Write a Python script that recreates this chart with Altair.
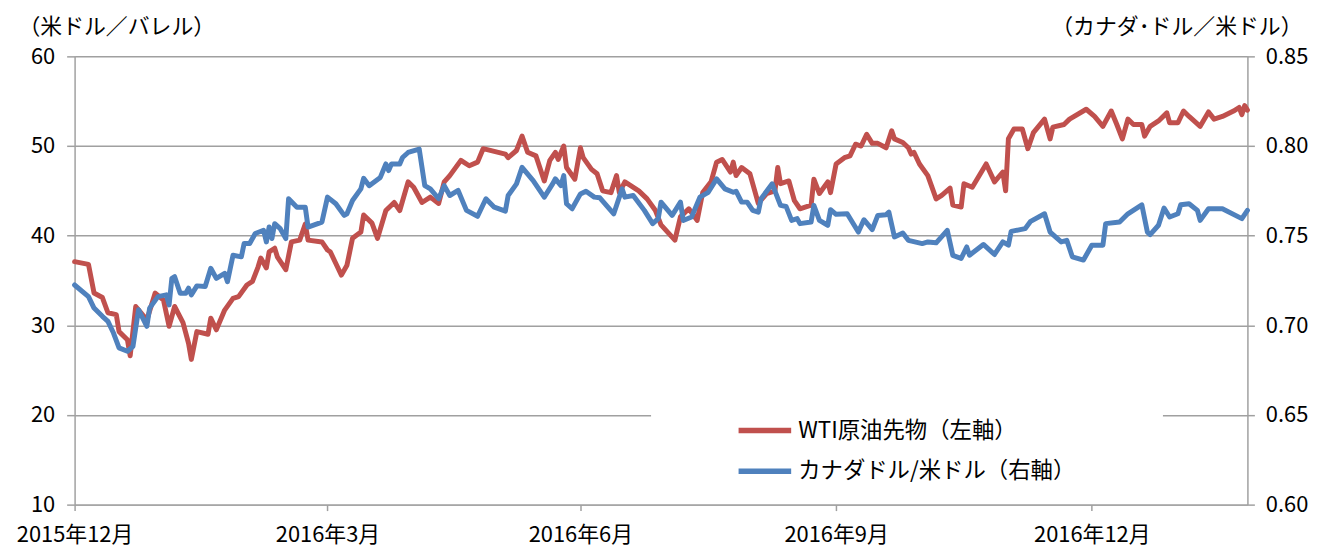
import altair as alt
import pandas as pd

WTI_LABEL = "WTI原油先物（左軸）"
CAD_LABEL = "カナダドル/米ドル（右軸）"

wti_dates = [
    "2015-12-31", "2016-01-05", "2016-01-07", "2016-01-10", "2016-01-12", "2016-01-15", "2016-01-16",
    "2016-01-19", "2016-01-20", "2016-01-22", "2016-01-26", "2016-01-29", "2016-02-01", "2016-02-03",
    "2016-02-05", "2016-02-08", "2016-02-10", "2016-02-11", "2016-02-13", "2016-02-17", "2016-02-18",
    "2016-02-20", "2016-02-23", "2016-02-26", "2016-02-28", "2016-03-02", "2016-03-04", "2016-03-06",
    "2016-03-07", "2016-03-09", "2016-03-10", "2016-03-12", "2016-03-13", "2016-03-16", "2016-03-18",
    "2016-03-21", "2016-03-23", "2016-03-24", "2016-03-29", "2016-03-31", "2016-04-01", "2016-04-03",
    "2016-04-05", "2016-04-07", "2016-04-09", "2016-04-12", "2016-04-13", "2016-04-16", "2016-04-18",
    "2016-04-21", "2016-04-24", "2016-04-26", "2016-04-29", "2016-05-01", "2016-05-04", "2016-05-07",
    "2016-05-10", "2016-05-12", "2016-05-14", "2016-05-18", "2016-05-21", "2016-05-24", "2016-05-26",
    "2016-06-03", "2016-06-04", "2016-06-07", "2016-06-09", "2016-06-11", "2016-06-14", "2016-06-17",
    "2016-06-19", "2016-06-21", "2016-06-22", "2016-06-24", "2016-06-25", "2016-06-28", "2016-06-30",
    "2016-07-01", "2016-07-04", "2016-07-06", "2016-07-08", "2016-07-11", "2016-07-13", "2016-07-14",
    "2016-07-16", "2016-07-21", "2016-07-24", "2016-07-27", "2016-07-29", "2016-08-03", "2016-08-05",
    "2016-08-08", "2016-08-11", "2016-08-13", "2016-08-16", "2016-08-18", "2016-08-20", "2016-08-23",
    "2016-08-24", "2016-08-25", "2016-08-27", "2016-08-30", "2016-09-02", "2016-09-05", "2016-09-08",
    "2016-09-09", "2016-09-10", "2016-09-13", "2016-09-15", "2016-09-17", "2016-09-21", "2016-09-22",
    "2016-09-24", "2016-09-27", "2016-09-28", "2016-09-30", "2016-10-03", "2016-10-05", "2016-10-07",
    "2016-10-09", "2016-10-11", "2016-10-13", "2016-10-15", "2016-10-18", "2016-10-20", "2016-10-21",
    "2016-10-24", "2016-10-26", "2016-10-27", "2016-10-28", "2016-10-30", "2016-11-02", "2016-11-05",
    "2016-11-07", "2016-11-10", "2016-11-11", "2016-11-14", "2016-11-15", "2016-11-18", "2016-11-23",
    "2016-11-26", "2016-11-29", "2016-11-30", "2016-12-01", "2016-12-03", "2016-12-06", "2016-12-08",
    "2016-12-10", "2016-12-14", "2016-12-16", "2016-12-17", "2016-12-21", "2016-12-23", "2016-12-29",
    "2017-01-01", "2017-01-04", "2017-01-07", "2017-01-09", "2017-01-11", "2017-01-13", "2017-01-15",
    "2017-01-18", "2017-01-19", "2017-01-21", "2017-01-24", "2017-01-27", "2017-01-28", "2017-01-31",
    "2017-02-02", "2017-02-04", "2017-02-08", "2017-02-11", "2017-02-13", "2017-02-16", "2017-02-20",
    "2017-02-22", "2017-02-23", "2017-02-24", "2017-02-25",
]
wti_values = [
    37.1, 36.8, 33.6, 33.1, 31.4, 31.2, 29.3,
    28.4, 26.6, 32.1, 30.6, 33.6, 32.8, 29.9,
    32.1, 30.3, 28.0, 26.2, 29.3, 29.0, 30.8,
    29.5, 31.7, 33.0, 33.2, 34.5, 34.9, 36.5,
    37.5, 36.4, 38.2, 38.6, 37.6, 36.2, 39.3,
    39.5, 41.3, 39.5, 39.3, 38.4, 38.2, 36.9,
    35.6, 36.7, 39.7, 40.4, 42.3, 41.4, 39.7,
    42.8, 43.7, 42.8, 46.0, 45.4, 43.7, 44.3,
    43.6, 46.0, 46.7, 48.4, 47.8, 48.2, 49.7,
    49.1, 48.7, 49.5, 51.1, 49.3, 48.9, 46.1,
    48.4, 49.3, 48.5, 50.0, 47.6, 46.3, 49.8,
    48.7, 47.4, 46.9, 45.0, 44.8, 46.7, 44.8,
    46.0, 45.0, 44.1, 42.8, 41.2, 39.5, 42.1,
    43.0, 41.7, 44.8, 46.0, 48.2, 48.5, 47.1,
    48.2, 46.7, 47.6, 46.9, 43.6, 44.7, 45.0,
    47.6, 45.8, 46.1, 43.9, 43.0, 43.4, 46.3,
    44.7, 46.0, 44.8, 48.0, 48.7, 48.9, 50.2,
    50.0, 51.3, 50.3, 50.3, 49.8, 51.7, 50.8,
    50.4, 49.8, 49.1, 49.3, 48.0, 46.7, 44.1,
    44.5, 45.3, 43.4, 43.2, 45.8, 45.4, 48.0,
    46.0, 47.1, 45.0, 50.8, 51.9, 51.9, 49.7,
    51.5, 53.0, 50.8, 52.1, 52.4, 53.0, 54.1,
    53.3, 52.2, 53.9, 52.4, 50.8, 53.0, 52.4,
    52.4, 51.1, 52.2, 52.8, 53.7, 52.6, 52.6,
    53.9, 53.3, 52.2, 53.8, 53.0, 53.3, 53.9,
    54.3, 53.5, 54.5, 54.0,
]

cad_dates = [
    "2015-12-31", "2016-01-05", "2016-01-07", "2016-01-10", "2016-01-12", "2016-01-14", "2016-01-16",
    "2016-01-19", "2016-01-21", "2016-01-23", "2016-01-26", "2016-01-27", "2016-01-30", "2016-02-02",
    "2016-02-03", "2016-02-04", "2016-02-05", "2016-02-07", "2016-02-09", "2016-02-10", "2016-02-11",
    "2016-02-13", "2016-02-16", "2016-02-18", "2016-02-20", "2016-02-23", "2016-02-24", "2016-02-26",
    "2016-02-29", "2016-03-01", "2016-03-03", "2016-03-05", "2016-03-08", "2016-03-09", "2016-03-10",
    "2016-03-11", "2016-03-12", "2016-03-14", "2016-03-16", "2016-03-17", "2016-03-20", "2016-03-23",
    "2016-03-24", "2016-03-29", "2016-03-31", "2016-04-03", "2016-04-06", "2016-04-07", "2016-04-09",
    "2016-04-12", "2016-04-13", "2016-04-15", "2016-04-19", "2016-04-21", "2016-04-22", "2016-04-23",
    "2016-04-26", "2016-04-27", "2016-04-29", "2016-05-03", "2016-05-05", "2016-05-07", "2016-05-10",
    "2016-05-12", "2016-05-14", "2016-05-17", "2016-05-20", "2016-05-24", "2016-05-27", "2016-05-30",
    "2016-06-03", "2016-06-04", "2016-06-07", "2016-06-09", "2016-06-13", "2016-06-17", "2016-06-20",
    "2016-06-21", "2016-06-23", "2016-06-24", "2016-06-25", "2016-06-27", "2016-06-30", "2016-07-02",
    "2016-07-05", "2016-07-07", "2016-07-12", "2016-07-15", "2016-07-16", "2016-07-19", "2016-07-23",
    "2016-07-26", "2016-07-28", "2016-07-29", "2016-08-02", "2016-08-05", "2016-08-06", "2016-08-09",
    "2016-08-12", "2016-08-15", "2016-08-18", "2016-08-21", "2016-08-24", "2016-08-25", "2016-08-27",
    "2016-08-29", "2016-08-31", "2016-09-02", "2016-09-03", "2016-09-07", "2016-09-10", "2016-09-12",
    "2016-09-14", "2016-09-16", "2016-09-17", "2016-09-21", "2016-09-22", "2016-09-24", "2016-09-27",
    "2016-09-28", "2016-09-30", "2016-10-04", "2016-10-08", "2016-10-10", "2016-10-13", "2016-10-15",
    "2016-10-18", "2016-10-19", "2016-10-21", "2016-10-24", "2016-10-26", "2016-10-31", "2016-11-02",
    "2016-11-05", "2016-11-09", "2016-11-11", "2016-11-14", "2016-11-16", "2016-11-17", "2016-11-22",
    "2016-11-26", "2016-11-29", "2016-12-01", "2016-12-02", "2016-12-07", "2016-12-09", "2016-12-14",
    "2016-12-16", "2016-12-20", "2016-12-22", "2016-12-24", "2016-12-28", "2016-12-31", "2017-01-04",
    "2017-01-05", "2017-01-10", "2017-01-13", "2017-01-18", "2017-01-20", "2017-01-21", "2017-01-24",
    "2017-01-26", "2017-01-28", "2017-01-31", "2017-02-01", "2017-02-04", "2017-02-07", "2017-02-08",
    "2017-02-11", "2017-02-16", "2017-02-23", "2017-02-25",
]
cad_values = [
    0.7225, 0.7160, 0.7096, 0.7050, 0.7022, 0.6957, 0.6874,
    0.6855, 0.6883, 0.7087, 0.6994, 0.7096, 0.7160, 0.7170,
    0.7114, 0.7262, 0.7271, 0.7179, 0.7179, 0.7207, 0.7170,
    0.7220, 0.7216, 0.7318, 0.7262, 0.7290, 0.7243, 0.7391,
    0.7382, 0.7456, 0.7456, 0.7512, 0.7530, 0.7465, 0.7548,
    0.7484, 0.7567, 0.7539, 0.7484, 0.7706, 0.7659, 0.7659,
    0.7548, 0.7576, 0.7715, 0.7678, 0.7613, 0.7622, 0.7696,
    0.7761, 0.7820, 0.7779, 0.7825, 0.7900, 0.7863, 0.7900,
    0.7900, 0.7936, 0.7964, 0.7983, 0.7779, 0.7761, 0.7706,
    0.7779, 0.7724, 0.7752, 0.7641, 0.7608, 0.7706, 0.7659,
    0.7637, 0.7724, 0.7789, 0.7881, 0.7807, 0.7715, 0.7789,
    0.7817, 0.7779, 0.7835, 0.7678, 0.7650, 0.7733, 0.7748,
    0.7715, 0.7711, 0.7622, 0.7761, 0.7715, 0.7724, 0.7641,
    0.7567, 0.7595, 0.7687, 0.7613, 0.7687, 0.7585, 0.7604,
    0.7715, 0.7742, 0.7817, 0.7761, 0.7742, 0.7748, 0.7687,
    0.7687, 0.7641, 0.7631, 0.7706, 0.7789, 0.7669, 0.7663,
    0.7585, 0.7595, 0.7567, 0.7576, 0.7669, 0.7585, 0.7558,
    0.7645, 0.7619, 0.7622, 0.7520, 0.7589, 0.7534, 0.7613,
    0.7617, 0.7631, 0.7493, 0.7515, 0.7474, 0.7456, 0.7465,
    0.7460, 0.7530, 0.7390, 0.7373, 0.7437, 0.7391, 0.7451,
    0.7395, 0.7465, 0.7447, 0.7524, 0.7539, 0.7580, 0.7622,
    0.7520, 0.7465, 0.7474, 0.7382, 0.7364, 0.7447, 0.7447,
    0.7567, 0.7576, 0.7622, 0.7672, 0.7520, 0.7506, 0.7558,
    0.7654, 0.7604, 0.7622, 0.7672, 0.7678, 0.7641, 0.7585,
    0.7650, 0.7650, 0.7595, 0.7641,
]

left_ticks = [10, 20, 30, 40, 50, 60]
right_ticks = [0.60, 0.65, 0.70, 0.75, 0.80, 0.85]
x_tick_dates = [(2015, 12, 31), (2016, 3, 31), (2016, 6, 30), (2016, 9, 30), (2016, 12, 31)]

wti_df = pd.DataFrame({"date": wti_dates, "value": wti_values, "series": WTI_LABEL})
cad_df = pd.DataFrame({"date": cad_dates, "value": cad_values, "series": CAD_LABEL})

W, H = 1180, 451
GRAY = "#A0A0A0"
FONT = "Noto Sans CJK JP"
LINE_W = 5

x_enc = alt.X(
    "date:T",
    scale=alt.Scale(type="utc", domain=[alt.DateTime(year=2015, month=12, date=31, utc=True),
                                        alt.DateTime(year=2017, month=2, date=25, utc=True)]),
    axis=alt.Axis(
        values=[alt.DateTime(year=y, month=m, date=d, utc=True) for (y, m, d) in x_tick_dates],
        labelExpr="utcyear(datum.value) + '年' + (utcmonth(datum.value) + 1) + '月'",
        title=None, grid=False, labelFlush=False, labelOverlap=False, labelBound=False,
        tickSize=6, tickColor=GRAY, tickWidth=1.5, domainColor=GRAY, domainWidth=1.5,
        labelFontSize=22, labelColor="black", labelPadding=14, labelFont=FONT,
    ),
)

color_enc = alt.Color(
    "series:N",
    scale=alt.Scale(domain=[WTI_LABEL, CAD_LABEL], range=["#C0504D", "#4F81BD"]),
    legend=alt.Legend(
        title=None, orient="none", legendX=665, legendY=347, symbolType="stroke",
        symbolSize=2800, symbolStrokeWidth=5.5, labelFontSize=22.5, labelFont=FONT,
        labelColor="black", labelOffset=4, rowPadding=-16, padding=0,
        labelLimit=400,
    ),
)

box = alt.Chart(pd.DataFrame({"k": [0]})).mark_rect(color="white").encode(
    x=alt.value(580), x2=alt.value(1095), y=alt.value(345), y2=alt.value(440)
)

wti = alt.Chart(wti_df).mark_line(strokeWidth=LINE_W, strokeCap="round", strokeJoin="round").encode(
    x=x_enc,
    y=alt.Y(
        "value:Q",
        scale=alt.Scale(domain=[10, 60], nice=False, zero=False),
        axis=alt.Axis(
            orient="left", values=left_ticks, grid=True, gridColor=GRAY, gridWidth=1.5,
            tickSize=8, tickColor=GRAY, tickWidth=1.5, domainColor=GRAY, domainWidth=1.5,
            labelFontSize=22, labelColor="black", labelPadding=12, labelFont=FONT,
            title="（米ドル／バレル）", titleAngle=0, titleAlign="left", titleBaseline="middle",
            titleX=-57, titleY=-30, titleFontSize=22, titleFontWeight="normal", titleFont=FONT,
            titleColor="black",
        ),
    ),
    color=color_enc,
)

cad = alt.Chart(cad_df).mark_line(strokeWidth=LINE_W, strokeCap="round", strokeJoin="round").encode(
    x=x_enc,
    y=alt.Y(
        "value:Q",
        scale=alt.Scale(domain=[0.60, 0.85], nice=False, zero=False),
        axis=alt.Axis(
            orient="right", values=right_ticks, format=".2f", grid=False,
            tickSize=7, tickColor=GRAY, tickWidth=1.5, domainColor=GRAY, domainWidth=1.5,
            labelFontSize=22, labelColor="black", labelPadding=11, labelFont=FONT,
            title="（カナダ･ドル／米ドル）", titleAngle=0, titleAlign="right", titleBaseline="middle",
            titleX=55, titleY=-30, titleFontSize=22, titleFontWeight="normal", titleFont=FONT,
            titleColor="black",
        ),
    ),
    color=color_enc,
)

chart = (
    alt.layer(box, wti, cad)
    .resolve_scale(y="independent")
    .properties(
        width=W, height=H,
        autosize=alt.AutoSizeParams(type="none"),
        padding={"left": 67, "top": 47, "right": 70, "bottom": 45},
    )
    .configure(font=FONT)
    .configure_view(stroke=None)
)

chart.save("out.html", embed_options={"renderer": "svg", "actions": False})
